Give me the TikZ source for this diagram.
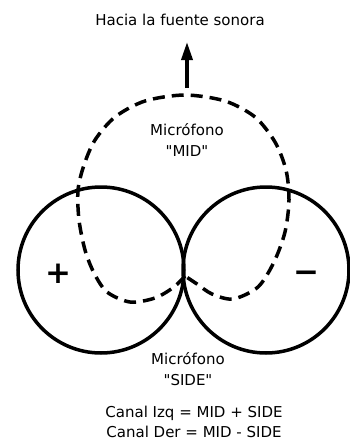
\documentclass[tikz,border=0pt]{standalone}
\usepackage{fontspec}
\setmainfont{DejaVu Sans}[Ligatures=TeXOff]
\usetikzlibrary{arrows.meta,positioning}

\tikzset{
  polar/.style={draw, circle, line width=3.5pt, minimum size=166pt, inner sep=0pt},
  etiqueta/.style={font=\fontsize{15pt}{20.5pt}\selectfont, align=center, inner sep=0pt},
  signo/.style={font=\fontsize{31pt}{31pt}\selectfont\bfseries, inner sep=0pt},
}

\begin{document}
\begin{tikzpicture}[x=1pt,y=-1pt]
  \useasboundingbox (0,0) rectangle (349,445);

  % Microfono SIDE (figura en ocho)
  \node[polar] (izq) at (101,270) {};
  \node[polar] (der) at (266,270) {};
  \node[signo] (mas) at (58,274) {+};
  \node[signo] (menos) at (306,277) {−};

  % Microfono MID (cardioide)
  \draw[line width=3.5pt, dash pattern=on 12pt off 7pt]
    plot[smooth] coordinates {(185,276) (174,287) (155,298) (130,302) (107,292) (94,273)
      (85,250) (79,220) (78,190) (84,165) (95,140) (115,117) (145,101) (185,95)
      (225,101) (255,117) (275,142) (286,170) (289,200) (285,232) (274,262)
      (258,287) (233,299) (212,294) (197,284) (185,276)};

  % Direccion de la fuente
  \node[etiqueta] (fuente) at (180,20) {Hacia la fuente sonora};
  \coordinate (base) at (187,88);
  \coordinate (punta) at (187,42);
  \draw[line width=3.5pt, -{Triangle[length=18pt,width=11pt]}] (base) -- (punta);

  % Textos
  \node[etiqueta] (mid) at (187,140) {Micrófono\\"MID"};
  \node[etiqueta] (side) at (188,369) {Micrófono\\"SIDE"};
  \node[etiqueta] (canales) at (194,422) {Canal Izq = MID + SIDE\\Canal Der = MID - SIDE};

\end{tikzpicture}
\end{document}
